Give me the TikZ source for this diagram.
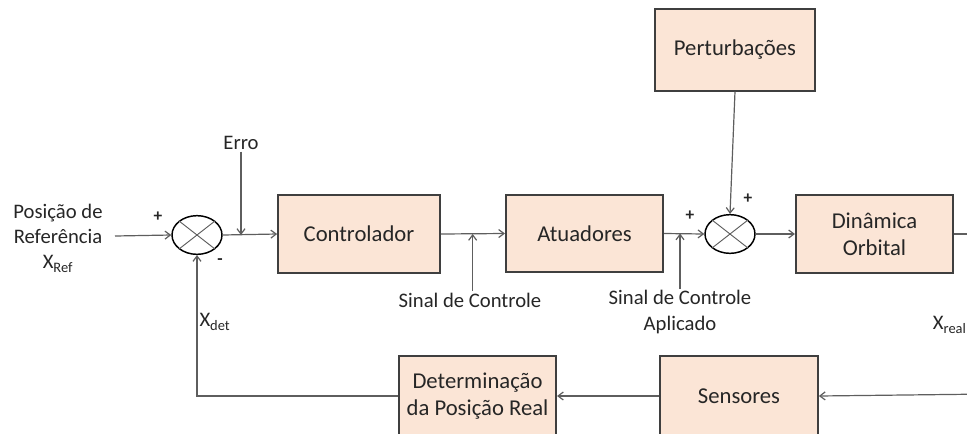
\documentclass[tikz,border=0pt]{standalone}
\usepackage{fontspec}
\setmainfont{Carlito}
\usetikzlibrary{arrows.meta,shapes.geometric}
\definecolor{boxfill}{HTML}{FBE5D6}
\definecolor{boxline}{HTML}{3F3F3F}
\definecolor{wire}{HTML}{5E5E5E}
\definecolor{txt}{HTML}{262626}
\tikzset{
  blockbox/.style={draw=boxline,line width=1.3pt,fill=boxfill,align=center,
    inner sep=0pt,text=txt,font=\fontsize{17}{20}\selectfont},
  sumnode/.style={draw=black,line width=1.1pt,ellipse,minimum width=37.5pt,
    minimum height=29pt,inner sep=0pt},
  wirelabel/.style={text=txt,align=center,inner sep=1pt},
  signlabel/.style={text=txt,font=\fontsize{13}{14}\bfseries\selectfont,inner sep=0pt},
  >={Straight Barb[length=4pt,width=6pt]}
}
\begin{document}
\begin{tikzpicture}[x=0.75pt,y=-0.75pt,font=\fontsize{15.5}{19}\selectfont,
    line width=0.9pt,draw=wire]
  \clip (0,0) rectangle (967,433);
  % blocks
  \node[blockbox,minimum width=120pt,minimum height=61pt] (pert) at (735,50) {Perturbações};
  \node[blockbox,minimum width=121.5pt,minimum height=58.5pt] (ctrl) at (359,234) {Controlador};
  \node[blockbox,minimum width=118pt,minimum height=58pt] (atu) at (584.5,233.5) {Atuadores};
  \node[blockbox,minimum width=118pt,minimum height=58.5pt] (din) at (874.5,234) {Dinâmica\\Orbital};
  \node[blockbox,minimum width=118.5pt,minimum height=60pt] (sens) at (739,396) {Sensores};
  \node[blockbox,minimum width=118pt,minimum height=60pt] (det) at (477.5,396) {Determinação\\da Posição Real};
  % summing points
  \node[sumnode] (s1) at (197,235) {};
  \node[sumnode] (s2) at (730,234) {};
  \draw[wire,line width=0.7pt] (s1.north west) -- (s1.south east) (s1.north east) -- (s1.south west);
  \draw[wire,line width=0.7pt] (s2.north west) -- (s2.south east) (s2.north east) -- (s2.south west);
  % texts
  \node[wirelabel] (ref) at (58,238) {Posição de\\Referência\\X\textsubscript{Ref}};
  \node[wirelabel] (erro) at (241,143) {Erro};
  \node[wirelabel] (sc) at (470,300) {Sinal de Controle};
  \node[wirelabel] (sca) at (680,312) {Sinal de Controle\\Aplicado};
  \node[wirelabel] (xdet) at (215,322) {X\textsubscript{det}};
  \node[wirelabel,anchor=west] (xreal) at (931,325) {X\textsubscript{real}};
  \node[signlabel] (p1) at (158,217) {+};
  \node[signlabel] (m1) at (220,262) {-};
  \node[signlabel] (p2) at (690,216) {+};
  \node[signlabel] (p3) at (748,199) {+};
  % free ends
  \coordinate (refin) at (115,236);
  \coordinate (xout) at (990,234);
  \coordinate (xin) at (990,394);
  % connectors
  \draw[->] (refin) -- (s1.west);
  \draw[->] (s1.east) -- (ctrl.west);
  \draw[->] (erro.south) -- (erro.south |- s1.east);
  \draw[->] (ctrl.east) -- (atu.west);
  \draw[->] ([xshift=2pt]sc.north) -- ([xshift=2pt]sc.north |- ctrl.east);
  \draw[->] (atu.east) -- (s2.west);
  \draw[->] (sca.north) -- (sca.north |- atu.east);
  \draw[->] (pert.south) -- (s2.north);
  \draw[->] (s2.east) -- (din.west);
  \draw (din.east) -- (xout);
  \draw[->] (xin) -- (sens.east);
  \draw[->] (sens.west) -- (det.east);
  \draw[->] (det.west) -| (s1.south);
\end{tikzpicture}
\end{document}
